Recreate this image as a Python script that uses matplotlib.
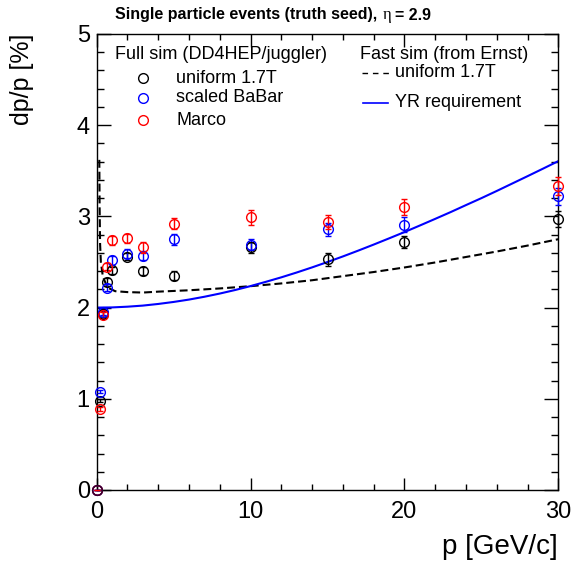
import numpy as np
import matplotlib
matplotlib.use('Agg')
import matplotlib.pyplot as plt
from matplotlib.ticker import MultipleLocator

plt.rcParams['font.family'] = ['Liberation Sans', 'DejaVu Sans']

# full sim points
p_full = [0, 0.2, 0.38, 0.65, 1, 2, 3, 5, 10, 15, 20, 30]
uniform = [0.0, 0.98, 1.93, 2.28, 2.41, 2.56, 2.40, 2.35, 2.66, 2.53, 2.72, 2.97]
uniform_err = [0.0, 0.02, 0.03, 0.04, 0.04, 0.04, 0.04, 0.05, 0.06, 0.07, 0.07, 0.09]
babar = [0.0, 1.08, 1.95, 2.22, 2.52, 2.59, 2.57, 2.75, 2.69, 2.86, 2.91, 3.22]
babar_err = [0.0, 0.02, 0.03, 0.04, 0.05, 0.05, 0.05, 0.06, 0.06, 0.07, 0.08, 0.09]
marco = [0.0, 0.89, 1.92, 2.45, 2.74, 2.76, 2.66, 2.92, 2.99, 2.94, 3.10, 3.33]
marco_err = [0.0, 0.02, 0.03, 0.04, 0.05, 0.05, 0.06, 0.06, 0.08, 0.08, 0.09, 0.10]

# fast sim curve (from Ernst)
p_fast = [0.17, 0.19, 0.22, 0.27, 0.4, 0.7, 1.2, 2, 3, 4, 6, 8, 10, 12, 14, 16, 18, 20, 22, 24, 26, 28, 30]
fast = [3.62, 3.1, 2.7, 2.5, 2.34, 2.22, 2.18, 2.17, 2.165, 2.175, 2.19, 2.21, 2.235, 2.265, 2.30, 2.345,
        2.39, 2.44, 2.495, 2.555, 2.615, 2.68, 2.75]

# YR requirement curve
p_yr = [0, 1, 2, 3, 4, 5, 6, 7, 8, 9, 10, 11, 12, 13, 14, 15, 16, 17, 18, 19, 20, 21, 22, 23, 24, 25, 26,
        27, 28, 29, 30]
yr = [2.0, 2.002, 2.01, 2.022, 2.04, 2.062, 2.088, 2.119, 2.154, 2.193, 2.236, 2.283, 2.332, 2.385,
      2.441, 2.5, 2.561, 2.625, 2.691, 2.759, 2.828, 2.9, 2.973, 3.047, 3.124, 3.2, 3.279, 3.36, 3.441,
      3.523, 3.606]

fig = plt.figure(figsize=(5.74, 5.63), dpi=100)
ax = fig.add_axes([96.7 / 574, (563 - 490) / 563, 461.6 / 574, 456 / 563])

ax.plot(p_fast, fast, color='black', lw=1.5, dashes=(3.8, 1.9))
ax.plot(p_yr, yr, color='#0000ff', lw=1.5)

for vals, errs, col in [(uniform, uniform_err, 'black'), (babar, babar_err, '#0000ff'),
                        (marco, marco_err, '#ff0000')]:
    ax.errorbar(p_full, vals, yerr=errs, fmt='o', mfc='none', mec=col, ecolor=col,
                ms=7, mew=1, elinewidth=1, capsize=2.5, capthick=1, clip_on=False, zorder=3)
# the origin point shows up dark in the original
ax.plot(p_full[:1], uniform[:1], 'o', mfc='none', mec='#300030', ms=7, mew=1, clip_on=False, zorder=4)

ax.set_xlim(0, 30)
ax.set_ylim(0, 5)
ax.xaxis.set_major_locator(MultipleLocator(10))
ax.xaxis.set_minor_locator(MultipleLocator(2))
ax.yaxis.set_major_locator(MultipleLocator(1))
ax.yaxis.set_minor_locator(MultipleLocator(0.2))
ax.tick_params(which='both', direction='in', top=True, right=True, labelsize=17, width=1)
ax.tick_params(axis='y', which='major', length=10, pad=5)
ax.tick_params(axis='y', which='minor', length=5)
ax.tick_params(axis='x', which='major', length=9, pad=8)
ax.tick_params(axis='x', which='minor', length=4.5)
for s in ax.spines.values():
    s.set_linewidth(1)

fig.text(21.7 / 574, 1 - 34 / 563, 'dp/p [%]', rotation=90, ha='center', va='top', fontsize=18)
fig.text(558 / 574, 1 - 547 / 563, 'p [GeV/c]', ha='right', va='center', fontsize=20)

# title in three pieces: bold text, symbol eta, bold value
ty = 1 - 15 / 563
t = fig.text(115 / 574, ty, 'Single particle events (truth seed),', ha='left',
             va='center', fontsize=11.5, fontweight='bold')
fig.canvas.draw()
x1 = t.get_window_extent().x1
eta = fig.text((x1 + 5) / 574, ty, 'η', ha='left', va='center', fontsize=12,
               family=['Liberation Serif', 'DejaVu Serif'])
fig.canvas.draw()
x2 = eta.get_window_extent().x1
fig.text((x2 + 4) / 574, ty, '= 2.9', ha='left', va='center', fontsize=11.5, fontweight='bold')

# legend drawn by hand
lt = 13
ax.text(0.0396, 0.954, 'Full sim (DD4HEP/juggler)', transform=ax.transAxes, fontsize=lt, va='center')
for y, lab, col in [(0.9035, 'uniform 1.7T', 'black'), (0.860, 'scaled BaBar', '#0000ff'),
                    (0.811, 'Marco', '#ff0000')]:
    ax.plot([0.0997], [y], 'o', mfc='none', mec=col, ms=7, mew=1, transform=ax.transAxes, clip_on=False)
    ax.text(0.172, y, lab, transform=ax.transAxes, fontsize=lt, va='center')
ax.text(0.570, 0.954, 'Fast sim (from Ernst)', transform=ax.transAxes, fontsize=lt, va='center')
ax.plot([0.574, 0.635], [0.9145, 0.9145], color='black', lw=1, dashes=(4, 3.5), transform=ax.transAxes)
ax.text(0.646, 0.9145, 'uniform 1.7T', transform=ax.transAxes, fontsize=lt, va='center')
ax.plot([0.576, 0.631], [0.8487, 0.8487], color='#0000ff', lw=1.2, transform=ax.transAxes)
ax.text(0.646, 0.8487, 'YR requirement', transform=ax.transAxes, fontsize=lt, va='center')

fig.savefig('out.png', dpi=100)
